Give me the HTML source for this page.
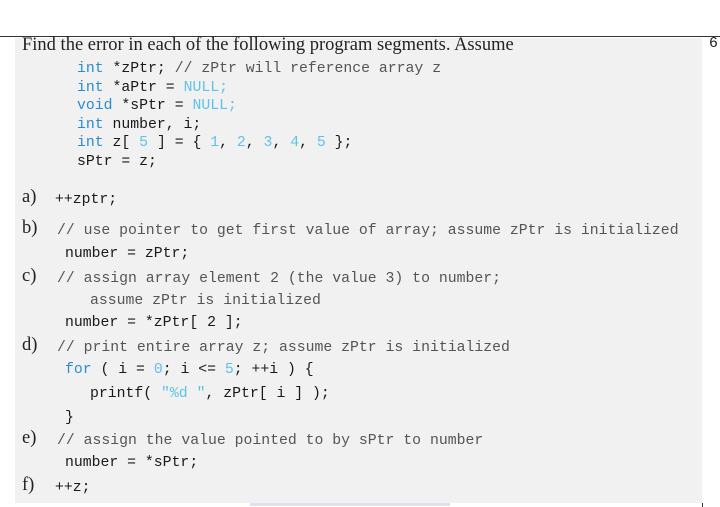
<!DOCTYPE html>
<html><head><meta charset="utf-8"><style>
body{margin:0;width:720px;height:506px;background:#fff;position:relative;overflow:hidden}
.bg{position:absolute;left:15px;top:38px;width:687px;height:465px;background:#f1f1f1}
.rule{position:absolute;left:0;top:36px;width:720px;height:1px;background:#333}
.t{position:absolute;white-space:pre;line-height:18px}
.s{font-family:"Liberation Serif",serif;font-size:18.5px;color:#222}
.c{font-family:"Liberation Mono",monospace;font-size:14.8px;color:#1a1a1a}
.k{color:#2a8cd2}.n{color:#5cc4ea}.g{color:#555}
</style></head><body>
<div class="rule"></div>
<div class="bg"></div>
<div class="t s" style="left:22px;top:36px">Find the error in each of the following program segments. Assume</div>
<div class="t c" style="left:709px;top:35px">6</div>
<div class="t c" style="left:77px;top:60px"><span class="k">int</span> *zPtr; <span class="g">// zPtr will reference array z</span></div>
<div class="t c" style="left:77px;top:79px"><span class="k">int</span> *aPtr = <span class="n">NULL;</span></div>
<div class="t c" style="left:77px;top:97px"><span class="k">void</span> *sPtr = <span class="n">NULL;</span></div>
<div class="t c" style="left:77px;top:116px"><span class="k">int</span> number, i;</div>
<div class="t c" style="left:77px;top:134px"><span class="k">int</span> z[ <span class="n">5</span> ] = { <span class="n">1</span>, <span class="n">2</span>, <span class="n">3</span>, <span class="n">4</span>, <span class="n">5</span> };</div>
<div class="t c" style="left:77px;top:153px">sPtr = z;</div>

<div class="t s" style="left:22px;top:188px">a)</div><div class="t c" style="left:55px;top:191px">++zptr;</div>
<div class="t s" style="left:22px;top:219px">b)</div><div class="t c g" style="left:57px;top:222px">// use pointer to get first value of array; assume zPtr is initialized</div>
<div class="t c" style="left:65px;top:245px">number = zPtr;</div>
<div class="t s" style="left:22px;top:267px">c)</div><div class="t c g" style="left:57px;top:270px">// assign array element 2 (the value 3) to number;</div>
<div class="t c g" style="left:90px;top:292px">assume zPtr is initialized</div>
<div class="t c" style="left:65px;top:314px">number = *zPtr[ 2 ];</div>
<div class="t s" style="left:22px;top:336px">d)</div><div class="t c g" style="left:57px;top:339px">// print entire array z; assume zPtr is initialized</div>
<div class="t c" style="left:65px;top:361px"><span class="k">for</span> ( i = <span class="n">0</span>; i &lt;= <span class="n">5</span>; ++i ) {</div>
<div class="t c" style="left:90px;top:385px">printf( <span class="n">"%d "</span>, zPtr[ i ] );</div>
<div class="t c" style="left:65px;top:409px">}</div>
<div class="t s" style="left:22px;top:429px">e)</div><div class="t c g" style="left:57px;top:432px">// assign the value pointed to by sPtr to number</div>
<div class="t c" style="left:65px;top:454px">number = *sPtr;</div>
<div class="t s" style="left:22px;top:476px">f)</div><div class="t c" style="left:55px;top:479px">++z;</div>
<div style="position:absolute;left:250px;top:503px;width:200px;height:3px;background:#dfe0f0"></div>
<div style="position:absolute;left:702px;top:503px;width:1px;height:4px;background:#333"></div>
</body></html>
